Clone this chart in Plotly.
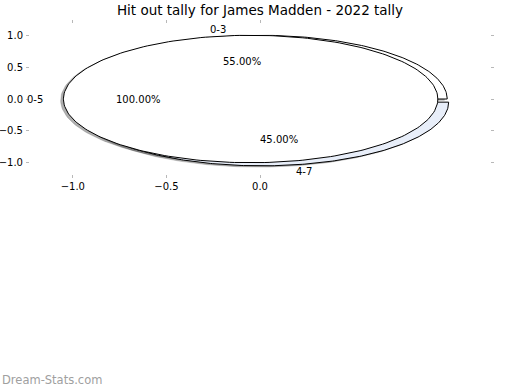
import numpy as np
import plotly.graph_objects as go

# ---- data ----
title_text = "Hit out tally for James Madden - 2022 tally"
outer_labels = ["0-3", "4-7"]
outer_values = [55, 45]
inner_labels = ["0-5"]
inner_values = [100]
x_tick_vals = [-1.0, -0.5, 0.0]
x_tick_text = ["\u22121.0", "\u22120.5", "0.0"]
y_tick_vals = [1.0, 0.5, 0.0, -0.5, -1.0]
y_tick_text = ["1.0", "0.5", "0.0", "\u22120.5", "\u22121.0"]
watermark = "Dream-Stats.com"

# ---- style ----
outer_colors = ["#ffffff", "#e8eef9"]
inner_colors = ["#ffffff"]
outer_explode = [0.0, 0.05]
inner_explode = [0.05]
shadow_off = (-0.015, -0.02)
shadow_color = "rgba(77,77,77,0.45)"
FONT = "DejaVu Sans"
L, R, T, B = 26, 26, 20, 212
PW, PH = 520 - L - R, 390 - T - B

fig = go.Figure()


def wedges(values, explode):
    total = float(sum(values))
    out = []
    start = 0.0
    for v, e in zip(values, explode):
        span = 360.0 * v / total
        t1, t2 = start, start + span
        mid = np.deg2rad((t1 + t2) / 2)
        cx, cy = e * np.cos(mid), e * np.sin(mid)
        th = np.deg2rad(np.linspace(t1, t2, 240))
        ax_, ay_ = cx + np.cos(th), cy + np.sin(th)
        full = abs(span - 360.0) < 1e-9
        if full:
            xs, ys = list(ax_), list(ay_)
        else:
            xs = [cx] + list(ax_) + [cx]
            ys = [cy] + list(ay_) + [cy]
        out.append(dict(xs=xs, ys=ys, cx=cx, cy=cy, mid=mid, frac=v / total))
        start = t2
    return out


ow = wedges(outer_values, outer_explode)
iw = wedges(inner_values, inner_explode)

# shadows first
for w in ow + iw:
    fig.add_trace(go.Scatter(
        x=[x + shadow_off[0] for x in w["xs"]],
        y=[y + shadow_off[1] for y in w["ys"]],
        fill="toself", fillcolor=shadow_color, mode="lines",
        line=dict(color=shadow_color, width=0.5), hoverinfo="skip", showlegend=False))

for w, c in zip(ow, outer_colors):
    fig.add_trace(go.Scatter(x=w["xs"], y=w["ys"], fill="toself", fillcolor=c,
                             mode="lines", line=dict(color="black", width=1),
                             hoverinfo="skip", showlegend=False))
for w, c in zip(iw, inner_colors):
    fig.add_trace(go.Scatter(x=w["xs"], y=w["ys"], fill="toself", fillcolor=c,
                             mode="lines", line=dict(color="black", width=1),
                             hoverinfo="skip", showlegend=False))

annotations = []
for ws, labels in ((ow, outer_labels), (iw, inner_labels)):
    for w, lab in zip(ws, labels):
        lx = w["cx"] + 1.1 * np.cos(w["mid"])
        ly = w["cy"] + 1.1 * np.sin(w["mid"])
        annotations.append(dict(x=lx, y=ly, xref="x", yref="y", text=lab, showarrow=False,
                                xanchor="left" if lx > 0 else "right", yanchor="middle",
                                font=dict(family=FONT, size=10, color="black")))
        px = w["cx"] + 0.6 * np.cos(w["mid"])
        py = w["cy"] + 0.6 * np.sin(w["mid"])
        annotations.append(dict(x=px, y=py, xref="x", yref="y",
                                text="%.2f%%" % (100 * w["frac"]), showarrow=False,
                                xanchor="center", yanchor="middle",
                                font=dict(family=FONT, size=10, color="black")))

annotations.append(dict(x=-L / PW, y=(PH - 380 + T) / PH, xref="paper", yref="paper",
                        text=watermark, showarrow=False, xanchor="left", yanchor="middle",
                        font=dict(family=FONT, size=11.5, color="#a0a0a0")))

fig.update_layout(
    width=520, height=390,
    margin=dict(l=L, r=R, t=T, b=B, autoexpand=False),
    paper_bgcolor="white", plot_bgcolor="white",
    title=dict(text=title_text, x=260 / 520, xanchor="center", y=1 - 10 / 390,
               yanchor="middle", font=dict(family=FONT, size=13.5, color="black")),
    annotations=annotations,
    showlegend=False,
)
fig.update_xaxes(range=[-1.25, 1.25], showgrid=False, zeroline=False, showline=False,
                 automargin=False, ticklabelstandoff=1,
                 tickvals=x_tick_vals, ticktext=x_tick_text, ticks="inside", ticklen=3,
                 tickcolor="#b8b8b8", mirror="ticks",
                 tickfont=dict(family=FONT, size=10, color="black"))
fig.update_yaxes(range=[-1.24, 1.24], showgrid=False, zeroline=False, showline=False,
                 automargin=False, ticklabelstandoff=2,
                 tickvals=y_tick_vals, ticktext=y_tick_text, ticks="inside", ticklen=3,
                 tickcolor="#b8b8b8", mirror="ticks",
                 tickfont=dict(family=FONT, size=10, color="black"))

fig.write_html("out.html", config={"displayModeBar": False},
               post_script="document.body.style.margin='0';document.body.style.padding='0';")
